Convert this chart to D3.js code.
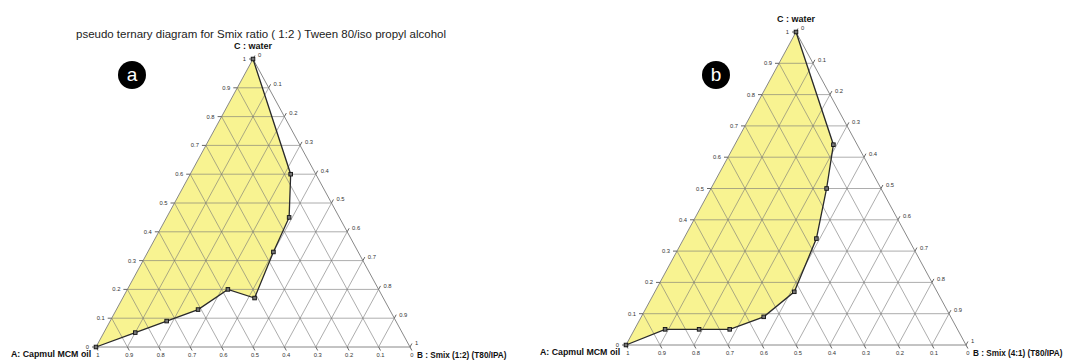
<!DOCTYPE html>
<html>
<head>
<meta charset="utf-8">
<script src="https://cdn.jsdelivr.net/npm/d3@7"></script>
<style>
  html, body { margin: 0; padding: 0; background: #fff; }
  svg { display: block; font-family: "Liberation Sans", Arial, sans-serif; }
</style>
</head>
<body>
<svg id="chart" width="1069" height="362"></svg>
<script>
// Axis ticks shared by all three sides of each triangle
const tickValues = [0, 0.1, 0.2, 0.3, 0.4, 0.5, 0.6, 0.7, 0.8, 0.9, 1];
const tickLabels = ["0", "0.1", "0.2", "0.3", "0.4", "0.5", "0.6", "0.7", "0.8", "0.9", "1"];

// Diagram (a): Smix 1:2 boundary of the microemulsion region (fractions)
const oilA   = [1.00, 0.85, 0.73, 0.61, 0.48, 0.41, 0.27, 0.16, 0.08, 0.00];
const smixA  = [0.00, 0.10, 0.18, 0.26, 0.32, 0.42, 0.40, 0.39, 0.32, 0.00];
const waterA = [0.00, 0.05, 0.09, 0.13, 0.20, 0.17, 0.33, 0.45, 0.60, 1.00];

// Diagram (b): Smix 4:1 boundary
const oilB   = [1.00, 0.86, 0.76, 0.67, 0.55, 0.42, 0.27, 0.16, 0.07, 0.00];
const smixB  = [0.00, 0.09, 0.19, 0.28, 0.36, 0.41, 0.39, 0.34, 0.29, 0.00];
const waterB = [0.00, 0.05, 0.05, 0.05, 0.09, 0.17, 0.34, 0.50, 0.64, 1.00];

const svg = d3.select("#chart");

svg.append("text")
  .attr("x", 261).attr("y", 38)
  .attr("text-anchor", "middle")
  .attr("font-size", 11.5)
  .attr("fill", "#222")
  .attr("textLength", 370).attr("lengthAdjust", "spacingAndGlyphs")
  .text("pseudo ternary diagram for Smix ratio ( 1:2 ) Tween 80/iso propyl alcohol");

function drawTernary(cfg) {
  const g = svg.append("g");
  const xs = d3.scaleLinear().domain([0, 1]).range([cfg.left, cfg.right]);
  const ys = d3.scaleLinear().domain([0, 1]).range([cfg.bottom, cfg.top]);
  // position from (smix, water) fractions; oil is the remainder
  const px = (b, c) => xs(b + c / 2);
  const py = (c) => ys(c);

  // filled region
  const pts = cfg.smix.map((b, i) => [px(b, cfg.water[i]), py(cfg.water[i])]);
  g.append("path")
    .attr("d", d3.line()(pts) + "Z")
    .attr("fill", "#f8f391")
    .attr("stroke", "none");

  // grid lines
  const grid = g.append("g").attr("stroke", "#777").attr("stroke-opacity", 0.6).attr("stroke-width", 1).attr("fill", "none");
  tickValues.slice(1, -1).forEach(t => {
    grid.append("line").attr("x1", px(0, t)).attr("y1", py(t)).attr("x2", px(1 - t, t)).attr("y2", py(t));
    grid.append("line").attr("x1", px(t, 0)).attr("y1", py(0)).attr("x2", px(t, 1 - t)).attr("y2", py(1 - t));
    grid.append("line").attr("x1", px(0, 1 - t)).attr("y1", py(1 - t)).attr("x2", px(1 - t, 0)).attr("y2", py(0));
  });

  // triangle outline
  g.append("path")
    .attr("d", d3.line()([[px(0, 0), py(0)], [px(1, 0), py(0)], [px(0, 1), py(1)]]) + "Z")
    .attr("fill", "none").attr("stroke", "#888").attr("stroke-width", 1);

  // tick directions (outward, along grid lines)
  const W = cfg.right - cfg.left, H = cfg.bottom - cfg.top;
  const len = Math.hypot(W / 2, H);
  const up = [W / 2 / len, -H / len];   // parallel to left edge
  const dn = [W / 2 / len, H / len];    // parallel to right edge
  const tk = 4;
  const ticks = g.append("g").attr("stroke", "#666").attr("stroke-width", 1);
  const labels = g.append("g").attr("font-size", 5.8).attr("fill", "#333");

  tickValues.forEach((t, i) => {
    // left edge: water
    const lx = px(0, t), ly = py(t);
    ticks.append("line").attr("x1", lx).attr("y1", ly).attr("x2", lx - tk).attr("y2", ly);
    labels.append("text").attr("x", lx - tk - 3).attr("y", ly + 2).attr("text-anchor", "end").text(tickLabels[i]);
    // right edge: smix
    const rx = px(t, 1 - t), ry = py(1 - t);
    ticks.append("line").attr("x1", rx).attr("y1", ry).attr("x2", rx + up[0] * tk).attr("y2", ry + up[1] * tk);
    labels.append("text").attr("x", rx + up[0] * tk + 3).attr("y", ry + up[1] * tk + 2).attr("text-anchor", "start").text(tickLabels[i]);
    // bottom edge: oil
    const bx = px(1 - t, 0), by = py(0);
    ticks.append("line").attr("x1", bx).attr("y1", by).attr("x2", bx + dn[0] * tk).attr("y2", by + dn[1] * tk);
    labels.append("text").attr("x", bx + dn[0] * tk).attr("y", by + 10).attr("text-anchor", "middle").text(tickLabels[i]);
  });

  // boundary line (region edge not on the triangle side)
  g.append("path")
    .attr("d", d3.line().curve(cfg.curve)(pts))
    .attr("fill", "none").attr("stroke", "#2a2a2a").attr("stroke-width", 1.3);

  // data markers
  g.append("g").selectAll("rect").data(pts).join("rect")
    .attr("x", d => d[0] - 1.8).attr("y", d => d[1] - 1.8)
    .attr("width", 3.6).attr("height", 3.6)
    .attr("fill", "#777").attr("stroke", "#111").attr("stroke-width", 0.9);

  // vertex titles
  g.append("text").attr("x", px(0, 1)).attr("y", py(1) - 10)
    .attr("text-anchor", "middle").attr("font-size", 9).attr("font-weight", "bold").attr("fill", "#111")
    .text("C : water");
  g.append("text").attr("x", cfg.aLabelX).attr("y", py(0) + 10)
    .attr("text-anchor", "start").attr("font-size", 8.8).attr("font-weight", "bold").attr("fill", "#111")
    .text("A: Capmul MCM oil");
  g.append("text").attr("x", px(1, 0) + 7).attr("y", py(0) + 11)
    .attr("text-anchor", "start").attr("font-size", 8.2).attr("font-weight", "bold").attr("fill", "#111")
    .text(cfg.bLabel);

  // panel badge
  g.append("circle").attr("cx", cfg.badge[0]).attr("cy", cfg.badge[1]).attr("r", 14).attr("fill", "#000");
  g.append("text").attr("x", cfg.badge[0]).attr("y", cfg.badge[1] + 6)
    .attr("text-anchor", "middle").attr("font-size", 19).attr("fill", "#fff").text(cfg.badgeText);
}

drawTernary({
  left: 96, right: 410, bottom: 347, top: 59,
  oil: oilA, smix: smixA, water: waterA,
  curve: d3.curveLinear,
  aLabelX: 11, bLabel: "B : Smix (1:2) (T80/IPA)",
  badge: [132, 75], badgeText: "a"
});

drawTernary({
  left: 626, right: 966, bottom: 345, top: 32,
  oil: oilB, smix: smixB, water: waterB,
  curve: d3.curveLinear,
  aLabelX: 540, bLabel: "B : Smix (4:1) (T80/IPA)",
  badge: [716, 75], badgeText: "b"
});
</script>
</body>
</html>
